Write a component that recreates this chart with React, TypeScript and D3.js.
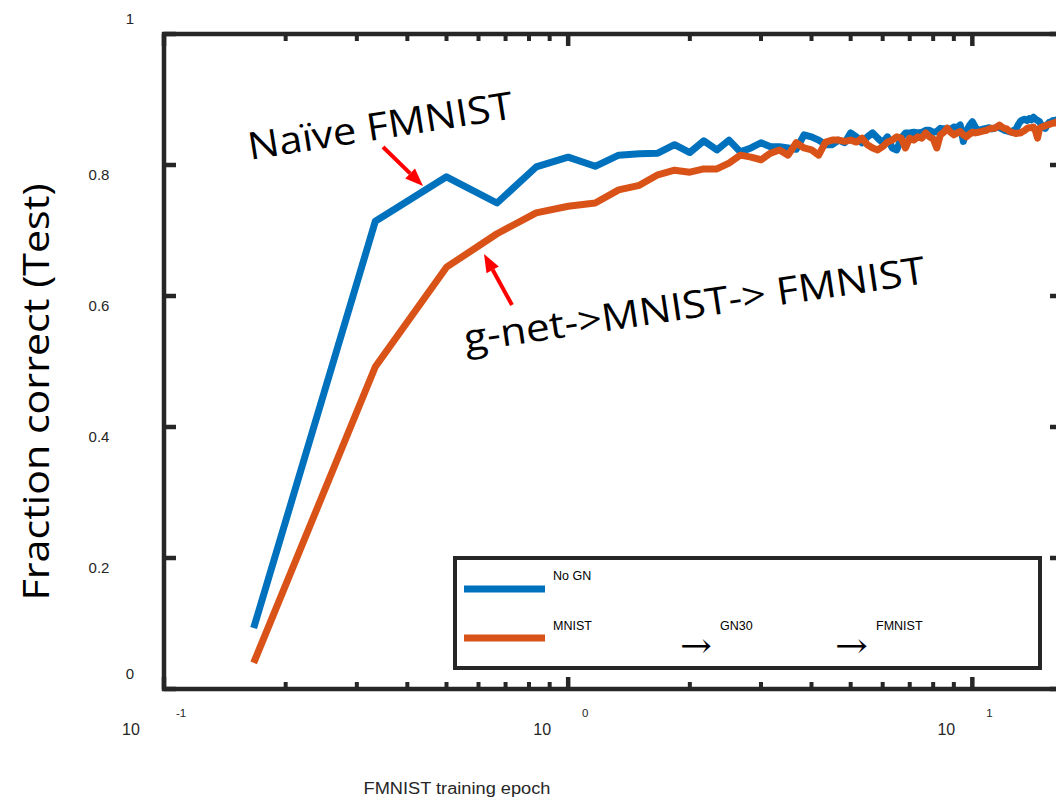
import React from "react";
import * as d3 from "d3";

// test accuracy sampled every 1/6 epoch (k = 1..100)
const noGN = [
  0.093, 0.714, 0.782, 0.742, 0.797, 0.812, 0.798, 0.815, 0.817, 0.818,
  0.831, 0.819, 0.837, 0.823, 0.838, 0.82, 0.826, 0.834, 0.828, 0.828,
  0.826, 0.824, 0.846, 0.843, 0.838, 0.831, 0.831, 0.838, 0.834, 0.849,
  0.843, 0.834, 0.843, 0.849, 0.841, 0.834, 0.843, 0.826, 0.823, 0.841,
  0.849, 0.849, 0.85, 0.849, 0.85, 0.853, 0.853, 0.85, 0.851, 0.856,
  0.855, 0.856, 0.854, 0.858, 0.857, 0.861, 0.836, 0.852, 0.86, 0.866,
  0.858, 0.852, 0.854, 0.855, 0.856, 0.857, 0.855, 0.856, 0.858, 0.857,
  0.855, 0.853, 0.852, 0.851, 0.85, 0.853, 0.855, 0.862, 0.867, 0.869,
  0.87, 0.868, 0.871, 0.869, 0.873, 0.87, 0.868, 0.866, 0.86, 0.857,
  0.856, 0.862, 0.865, 0.866, 0.868, 0.867, 0.869, 0.87, 0.868, 0.869,
];
const gnMnist = [
  0.04, 0.492, 0.644, 0.695, 0.727, 0.737, 0.742, 0.762, 0.769, 0.785,
  0.792, 0.789, 0.794, 0.794, 0.803, 0.815, 0.812, 0.808, 0.818, 0.823,
  0.815, 0.834, 0.826, 0.823, 0.815, 0.835, 0.838, 0.838, 0.836, 0.838,
  0.835, 0.841, 0.831, 0.826, 0.823, 0.828, 0.835, 0.838, 0.843, 0.841,
  0.826, 0.841, 0.838, 0.843, 0.841, 0.849, 0.843, 0.84, 0.826, 0.846,
  0.85, 0.856, 0.85, 0.846, 0.849, 0.851, 0.846, 0.843, 0.847, 0.85,
  0.849, 0.85, 0.851, 0.852, 0.853, 0.855, 0.856, 0.856, 0.858, 0.861,
  0.858, 0.856, 0.855, 0.852, 0.85, 0.849, 0.848, 0.849, 0.849, 0.851,
  0.853, 0.856, 0.857, 0.857, 0.858, 0.852, 0.841, 0.856, 0.858, 0.859,
  0.86, 0.861, 0.862, 0.863, 0.864, 0.864, 0.866, 0.866, 0.867, 0.867,
];
const epochs = noGN.map((_, i) => (i + 1) / 6);

const yTicks = [0, 0.2, 0.4, 0.6, 0.8, 1];
const decades = [0.1, 1, 10];
const decadeExp = ["-1", "0", "1"];

const W = 1056;
const H = 797;
const AX = "#262626";
const BLUE = "#0072BD";
const ORANGE = "#D95319";

export default function App() {
  const x = d3.scaleLog().domain([0.1, 100 / 6]).range([164, 1062]);
  const y = d3.scaleLinear().domain([0, 1]).range([689, 34]);
  const [x0, x1] = x.range();
  const [y0, y1] = y.range();

  const line = d3
    .line<number>()
    .x((_, i) => x(epochs[i]))
    .y((d) => y(d));

  const minor: number[] = [];
  decades.forEach((d) => {
    for (let m = 2; m <= 9; m++) if (d * m <= 100 / 6) minor.push(d * m);
  });

  const arrow = (fx: number, fy: number, tx: number, ty: number) => {
    const a = Math.atan2(ty - fy, tx - fx);
    const L = 18, w = 7;
    const bx = tx - L * Math.cos(a), by = ty - L * Math.sin(a);
    const px = -Math.sin(a) * w, py = Math.cos(a) * w;
    return (
      <g>
        <line x1={fx} y1={fy} x2={bx} y2={by} stroke="#ff0000" strokeWidth={4} />
        <path
          d={`M${tx},${ty}L${bx + px},${by + py}L${bx - px},${by - py}Z`}
          fill="#ff0000"
        />
      </g>
    );
  };

  const tickFont = "Liberation Sans, Arial, sans-serif";

  return (
    <svg
      width={W}
      height={H}
      style={{ position: "absolute", left: 0, top: 0, background: "#fff" }}
    >
      {/* data */}
      <path d={line(noGN) || ""} fill="none" stroke={BLUE} strokeWidth={7} strokeLinejoin="round" />
      <path d={line(gnMnist) || ""} fill="none" stroke={ORANGE} strokeWidth={7} strokeLinejoin="round" />

      {/* box */}
      <rect x={x0} y={y1} width={x1 - x0} height={y0 - y1} fill="none" stroke={AX} strokeWidth={4.5} />

      {/* x ticks, bottom and top */}
      {decades.map((d) => (
        <g key={"M" + d}>
          <line x1={x(d)} x2={x(d)} y1={y0} y2={y0 - 12} stroke={AX} strokeWidth={4.5} />
          <line x1={x(d)} x2={x(d)} y1={y1} y2={y1 + 12} stroke={AX} strokeWidth={4.5} />
        </g>
      ))}
      {minor.map((d) => (
        <g key={"m" + d}>
          <line x1={x(d)} x2={x(d)} y1={y0} y2={y0 - 7} stroke={AX} strokeWidth={4} />
          <line x1={x(d)} x2={x(d)} y1={y1} y2={y1 + 7} stroke={AX} strokeWidth={4} />
        </g>
      ))}

      {/* y ticks, left and right */}
      {yTicks.map((t) => (
        <g key={"y" + t}>
          <line x1={x0} x2={x0 + 12} y1={y(t)} y2={y(t)} stroke={AX} strokeWidth={4.5} />
          <line x1={x1} x2={x1 - 12} y1={y(t)} y2={y(t)} stroke={AX} strokeWidth={4.5} />
          <text
            x={t === 0 || t === 1 ? 130 : 99}
            y={y(t) + (t === 0 || t === 1 ? -16 : 9)}
            dominantBaseline="central"
            textAnchor="middle"
            fontFamily={tickFont}
            fontSize={15}
            fill={AX}
          >
            {t === 0 || t === 1 ? String(t) : t.toFixed(1)}
          </text>
        </g>
      ))}

      {/* x tick labels 10^n */}
      {decades.map((d, i) => (
        <g key={"xl" + d} fontFamily={tickFont} fill={AX}>
          <text x={x(d) - (i === 0 ? 33 : 26)} y={729} dominantBaseline="central" textAnchor="middle" fontSize={16}>
            10
          </text>
          <text x={x(d) + 17} y={713} dominantBaseline="central" textAnchor="middle" fontSize={11.5}>
            {decadeExp[i]}
          </text>
        </g>
      ))}

      {/* axis labels */}
      <text
        x={457}
        y={788}
        dominantBaseline="central"
        textAnchor="middle"
        fontFamily={tickFont}
        fontSize={16}
        fill={AX}
        textLength={187}
        lengthAdjust="spacingAndGlyphs"
      >
        FMNIST training epoch
      </text>
      <text
        transform="translate(35,392) rotate(-90)"
        dominantBaseline="central"
        textAnchor="middle"
        fontFamily="Open Sans, Noto Sans, sans-serif"
        fontSize={36}
        fill="#000"
        textLength={417}
        lengthAdjust="spacingAndGlyphs"
      >
        Fraction correct (Test)
      </text>

      {/* annotations */}
      <text
        transform="translate(250,160) rotate(-9)"
        fontFamily="Open Sans, Noto Sans, sans-serif"
        fontSize={38}
        fill="#000"
        textLength={268}
        lengthAdjust="spacingAndGlyphs"
      >
        Naïve FMNIST
      </text>
      <text
        transform="translate(466,352) rotate(-8.5)"
        fontFamily="Open Sans, Noto Sans, sans-serif"
        fontSize={38}
        fill="#000"
        textLength={466}
        lengthAdjust="spacingAndGlyphs"
      >
        g-net-&gt;MNIST-&gt; FMNIST
      </text>
      {arrow(383, 147, 423, 186)}
      {arrow(512, 305, 484, 254)}

      {/* legend */}
      <rect x={455} y={558} width={585} height={110} fill="#fff" stroke={AX} strokeWidth={4} />
      <line x1={464} x2={545} y1={589} y2={589} stroke={BLUE} strokeWidth={7} />
      <line x1={464} x2={545} y1={638} y2={638} stroke={ORANGE} strokeWidth={7} />
      <g fontFamily={tickFont} fontSize={12.5} fill="#000">
        <text x={553} y={580}>No GN</text>
        <text x={553} y={630}>MNIST</text>
        <text x={720} y={630}>GN30</text>
        <text x={876} y={630}>FMNIST</text>
      </g>
      <g fontFamily="DejaVu Serif, serif" fontSize={34} fill="#000">
        <text x={680} y={657} textLength={32} lengthAdjust="spacingAndGlyphs">→</text>
        <text x={835} y={657} textLength={33} lengthAdjust="spacingAndGlyphs">→</text>
      </g>
    </svg>
  );
}
